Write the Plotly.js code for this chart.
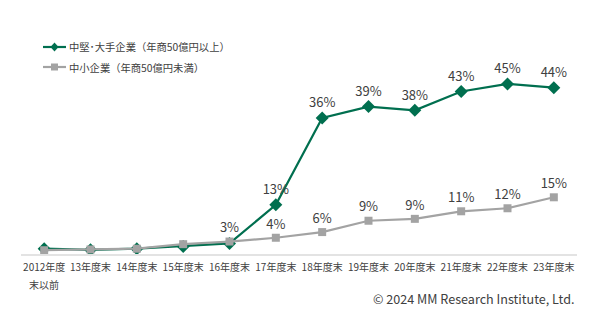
<!DOCTYPE html>
<html><head><meta charset="utf-8">
<script src="https://cdn.plot.ly/plotly-3.0.1.min.js"></script>
<style>html,body{margin:0;padding:0;background:#fff}#c{width:600px;height:321px}</style>
</head><body><div id="c"></div>
<script>
const categories = ['2012年度末以前','13年度末','14年度末','15年度末','16年度末','17年度末','18年度末','19年度末','20年度末','21年度末','22年度末','23年度末'];
const tickLabels = ['2012年度','13年度末','14年度末','15年度末','16年度末','17年度末','18年度末','19年度末','20年度末','21年度末','22年度末','23年度末'];
const firstTickSecondLine = '末以前';
const largeName = '中堅･大手企業（年商50億円以上）';
const smallName = '中小企業（年商50億円未満）';
const largeValues = [1.4, 1.1, 1.4, 2.0, 2.8, 13, 36, 39, 38, 43, 45, 44];
const smallValues = [1.0, 1.2, 1.4, 2.6, 3.3, 4.3, 5.8, 8.8, 9.3, 11.3, 12.1, 15];
const largeLabels = ['', '', '', '', '', '13%', '36%', '39%', '38%', '43%', '45%', '44%'];
const smallLabels = ['', '', '', '', '3%', '4%', '6%', '9%', '9%', '11%', '12%', '15%'];
const credit = '© 2024 MM Research Institute, Ltd.';

const GREEN = '#006f4f', GRAY = '#a3a3a3', TXT = '#404040';
const FONT = '"Noto Sans CJK JP", "Noto Sans", sans-serif';
const M = {l:21, r:23, t:65, b:67};
const PW = 600 - M.l - M.r, PH = 321 - M.t - M.b;
const px = x => (x - M.l) / PW;
const py = y => (321 - M.b - y) / PH;

const traces = [
  {x: categories, y: largeValues, text: largeLabels, name: largeName, type:'scatter', mode:'lines+markers+text',
   line:{color:GREEN, width:2.2}, marker:{symbol:'diamond', size:10, color:GREEN},
   textposition:'top center', textfont:{size:13, color:TXT, family:FONT}, cliponaxis:false, showlegend:false},
  {x: categories, y: smallValues, text: smallLabels, name: smallName, type:'scatter', mode:'lines+markers+text',
   line:{color:GRAY, width:2.2}, marker:{symbol:'square', size:8, color:GRAY},
   textposition:'top center', textfont:{size:13, color:TXT, family:FONT}, cliponaxis:false, showlegend:false}
];

function legendItem(y, color, sym, name) {
  const shapes = [{type:'line', xref:'paper', yref:'paper', x0:px(43), x1:px(66), y0:py(y), y1:py(y), line:{color:color, width:2.2}}];
  const cx = 54.5;
  if (sym === 'diamond') {
    const p = (a,b) => px(a) + ',' + py(b);
    shapes.push({type:'path', xref:'paper', yref:'paper', path:'M'+p(cx, y-4.5)+' L'+p(cx+4, y)+' L'+p(cx, y+4.5)+' L'+p(cx-4, y)+' Z', fillcolor:color, line:{width:0}});
  } else {
    shapes.push({type:'rect', xref:'paper', yref:'paper', x0:px(cx-3.5), x1:px(cx+3.5), y0:py(y+3.5), y1:py(y-3.5), fillcolor:color, line:{width:0}});
  }
  const ann = {xref:'paper', yref:'paper', x:px(67), y:py(y), xanchor:'left', yanchor:'middle', text:name, showarrow:false, font:{size:10.3, color:TXT, family:FONT}};
  return {shapes, ann};
}
const L1 = legendItem(47, GREEN, 'diamond', largeName);
const L2 = legendItem(67, GRAY, 'square', smallName);

const layout = {
  width:600, height:321, margin:M, paper_bgcolor:'#fff', plot_bgcolor:'#fff',
  font:{family:FONT, color:TXT},
  xaxis:{type:'category', range:[-0.5, 11.5], showgrid:false, zeroline:false, showline:true, linecolor:'#e3e3e3', linewidth:1.5,
         tickmode:'array', tickvals:categories, ticktext:tickLabels, ticklabelstandoff:3,
         ticks:'', tickfont:{size:10, color:TXT, family:FONT}, fixedrange:true},
  yaxis:{range:[0, 50], visible:false, fixedrange:true},
  shapes:[...L1.shapes, ...L2.shapes],
  annotations:[L1.ann, L2.ann,
    {xref:'x', yref:'paper', x:categories[0], y:py(284), xanchor:'center', yanchor:'middle', text:firstTickSecondLine, showarrow:false, font:{size:10, color:TXT, family:FONT}},
    {xref:'paper', yref:'paper', x:px(576), y:py(298), xanchor:'right', yanchor:'middle', text:credit, showarrow:false, font:{size:12.6, color:TXT, family:FONT}}],
  showlegend:false
};
Plotly.newPlot('c', traces, layout, {staticPlot:true, displayModeBar:false});
</script></body></html>
